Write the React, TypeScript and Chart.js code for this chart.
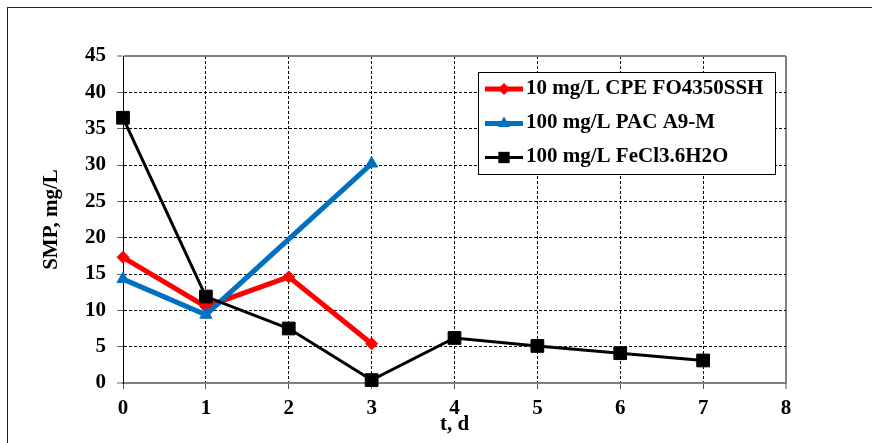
import React, { useEffect, useRef } from 'react';
import { Chart, registerables } from 'chart.js';

Chart.register(...registerables);

const FONT = '"Liberation Serif", "Times New Roman", Times, serif';

const xTicks = [0, 1, 2, 3, 4, 5, 6, 7, 8];
const yTicks = [0, 5, 10, 15, 20, 25, 30, 35, 40, 45];

const cpeDays = [0, 1, 2, 3];
const cpeValues = [17.3, 10.5, 14.6, 5.4];

const pacDays = [0, 1, 3];
const pacValues = [14.3, 9.4, 30.2];

const fecDays = [0, 1, 2, 3, 4, 5, 6, 7];
const fecValues = [36.5, 11.9, 7.5, 0.4, 6.2, 5.1, 4.1, 3.1];

const seriesLabels = ['10 mg/L CPE FO4350SSH', '100 mg/L PAC A9-M', '100 mg/L FeCl3.6H2O'];
const seriesColors = ['#FF0000', '#0070C0', '#000000'];
const xTitle = 't, d';
const yTitle = 'SMP, mg/L';

const toPoints = (xs: number[], ys: number[]) => xs.map((x, i) => ({ x, y: ys[i] }));

function drawMarker(ctx: CanvasRenderingContext2D, style: string, x: number, y: number, r: number) {
  ctx.beginPath();
  if (style === 'rectRot') {
    ctx.moveTo(x - r, y);
    ctx.lineTo(x, y - r);
    ctx.lineTo(x + r, y);
    ctx.lineTo(x, y + r);
  } else if (style === 'triangle') {
    for (let k = 0; k < 3; k++) {
      const a = (k * 2 * Math.PI) / 3;
      const px = x + Math.sin(a) * r;
      const py = y - Math.cos(a) * r;
      if (k === 0) ctx.moveTo(px, py);
      else ctx.lineTo(px, py);
    }
  } else {
    const s = r * Math.SQRT1_2;
    ctx.rect(x - s, y - s, 2 * s, 2 * s);
  }
  ctx.closePath();
  ctx.fill();
}

const boxLegend = {
  id: 'boxLegend',
  afterDatasetsDraw(chart: any) {
    const ctx: CanvasRenderingContext2D = chart.ctx;
    const bx = 478.5;
    const by = 72.5;
    const bw = 297;
    const bh = 102;
    ctx.save();
    ctx.fillStyle = '#ffffff';
    ctx.fillRect(bx, by, bw, bh);
    ctx.strokeStyle = '#000000';
    ctx.lineWidth = 1;
    ctx.strokeRect(bx, by, bw, bh);
    const rows = [89, 123.5, 157.5];
    chart.data.datasets.forEach((ds: any, i: number) => {
      const y = rows[i];
      ctx.strokeStyle = ds.borderColor;
      ctx.lineWidth = ds.borderWidth;
      ctx.beginPath();
      ctx.moveTo(485, y);
      ctx.lineTo(523, y);
      ctx.stroke();
      ctx.fillStyle = ds.pointBackgroundColor;
      drawMarker(ctx, ds.pointStyle, 504, y, ds.pointStyle === 'rect' ? 8 : ds.pointRadius);
      ctx.fillStyle = '#000';
      ctx.font = `bold 21px ${FONT}`;
      ctx.textBaseline = 'middle';
      ctx.textAlign = 'left';
      ctx.fillText(ds.label, 526, y - 0.5);
    });
    ctx.restore();
  },
};

export default function App() {
  const ref = useRef<HTMLCanvasElement>(null);

  useEffect(() => {
    const tickFont = { family: FONT, size: 21, weight: 'bold' as const };
    const chart = new Chart(ref.current as HTMLCanvasElement, {
      type: 'line',
      data: {
        datasets: [
          {
            label: seriesLabels[0],
            data: toPoints(cpeDays, cpeValues),
            borderColor: seriesColors[0],
            backgroundColor: seriesColors[0],
            borderWidth: 5,
            pointStyle: 'rectRot',
            pointRadius: 6,
            pointBorderWidth: 1,
            pointBorderColor: seriesColors[0],
            pointBackgroundColor: seriesColors[0],
            tension: 0,
            clip: false as any,
            order: 2,
          },
          {
            label: seriesLabels[1],
            data: toPoints(pacDays, pacValues),
            borderColor: seriesColors[1],
            backgroundColor: seriesColors[1],
            borderWidth: 5,
            pointStyle: 'triangle',
            pointRadius: 7,
            pointBorderWidth: 1,
            pointBorderColor: seriesColors[1],
            pointBackgroundColor: seriesColors[1],
            tension: 0,
            clip: false as any,
            order: 1,
          },
          {
            label: seriesLabels[2],
            data: toPoints(fecDays, fecValues),
            borderColor: seriesColors[2],
            backgroundColor: seriesColors[2],
            borderWidth: 3,
            pointStyle: 'rect',
            pointRadius: 9,
            pointBorderWidth: 1,
            pointBorderColor: seriesColors[2],
            pointBackgroundColor: seriesColors[2],
            tension: 0,
            clip: false as any,
            order: 0,
          },
        ],
      },
      options: {
        responsive: false,
        maintainAspectRatio: false,
        devicePixelRatio: 1,
        animation: false,
        events: [],
        layout: { padding: { left: 0, top: 56, right: 86, bottom: 0 } },
        plugins: {
          legend: { display: false },
          tooltip: { enabled: false },
        },
        scales: {
          x: {
            type: 'linear',
            min: 0,
            max: 8,
            afterBuildTicks: (s: any) => {
              s.ticks = xTicks.map((v) => ({ value: v }));
            },
            afterFit: (s: any) => {
              s.height = 60;
            },
            ticks: { font: tickFont, color: '#000', padding: 7, maxRotation: 0, autoSkip: false },
            grid: {
              color: (c: any) => (c.tick && c.tick.value === 8 ? '#808080' : '#000'),
              lineWidth: (c: any) => (c.tick && c.tick.value === 8 ? 2 : 1),
              tickLength: 6,
              tickColor: '#555',
              tickWidth: 1,
            },
            border: {
              display: true,
              color: '#808080',
              width: 2,
              dash: (c: any) => (c.tick && c.tick.value !== 0 && c.tick.value !== 8 ? [3, 2] : []),
            },
            title: {
              display: true,
              text: xTitle,
              font: tickFont,
              color: '#000',
              padding: { top: 0, bottom: 6 },
            },
          },
          y: {
            type: 'linear',
            min: 0,
            max: 45,
            afterBuildTicks: (s: any) => {
              s.ticks = yTicks.map((v) => ({ value: v }));
            },
            afterFit: (s: any) => {
              s.width = 123;
            },
            ticks: { font: tickFont, color: '#000', padding: 11, autoSkip: false },
            grid: {
              color: (c: any) => (c.tick && (c.tick.value === 45 || c.tick.value === 0) ? '#808080' : '#000'),
              lineWidth: (c: any) => (c.tick && (c.tick.value === 45 || c.tick.value === 0) ? 2 : 1),
              tickLength: 6,
              tickColor: '#666',
              tickWidth: 1,
            },
            border: {
              display: true,
              color: '#000',
              width: 1,
              dash: (c: any) => (c.tick && c.tick.value !== 0 && c.tick.value !== 45 ? [3, 2] : []),
            },
            title: {
              display: true,
              text: yTitle,
              font: tickFont,
              color: '#000',
              padding: { top: 39, bottom: 0 },
            },
          },
        },
      } as any,
      plugins: [boxLegend],
    });
    return () => chart.destroy();
  }, []);

  return (
    <div
      style={{
        position: 'absolute',
        left: 0,
        top: 0,
        width: 872,
        height: 443,
        overflow: 'hidden',
        background: '#fff',
      }}
    >
      <div
        style={{
          position: 'absolute',
          left: 7,
          top: 7,
          width: 1000,
          height: 1000,
          borderLeft: '1px solid #222',
          borderTop: '1px solid #222',
        }}
      />
      <canvas
        ref={ref}
        width={872}
        height={443}
        style={{ position: 'absolute', left: 0, top: 0, width: 872, height: 443 }}
      />
    </div>
  );
}
